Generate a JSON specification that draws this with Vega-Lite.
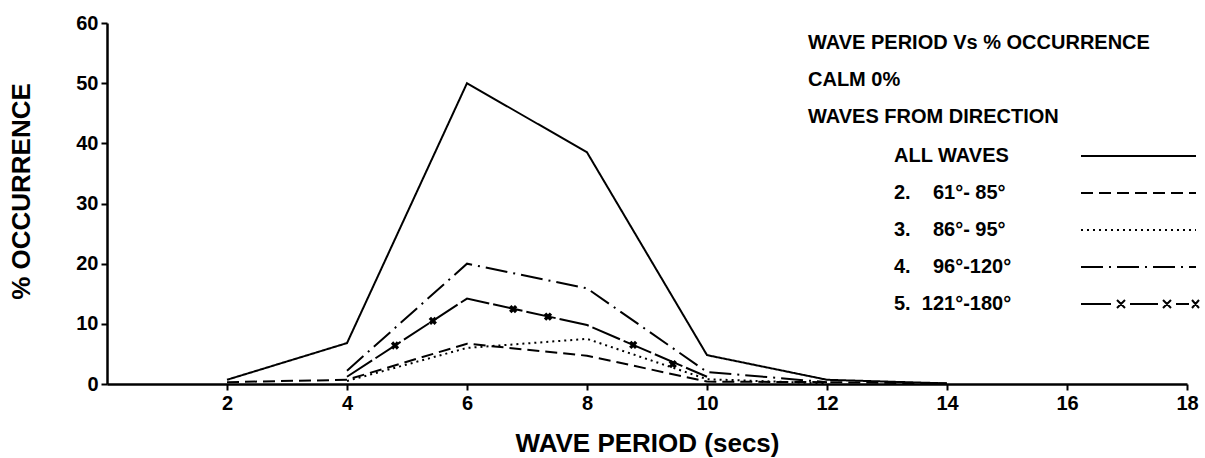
{
  "$schema": "https://vega.github.io/schema/vega-lite/v6.json",
  "width": 1080,
  "height": 361,
  "autosize": {"type": "none"},
  "padding": {"left": 107, "top": 23, "right": 18, "bottom": 74},
  "background": "white",
  "config": {
    "view": {"stroke": null},
    "font": "Liberation Sans",
    "axis": {
      "grid": false,
      "domainColor": "black",
      "domainWidth": 2.5,
      "tickColor": "black",
      "tickWidth": 2,
      "tickSize": 6,
      "labelFont": "Liberation Sans",
      "labelFontSize": 20,
      "labelFontWeight": "bold",
      "labelColor": "black",
      "titleFont": "Liberation Sans",
      "titleFontSize": 26,
      "titleFontWeight": "bold",
      "titleColor": "black"
    },
    "legend": {
      "titleFont": "Liberation Sans",
      "labelFont": "Liberation Sans"
    }
  },
  "datasets": {
    "series": [
      {"period": 2, "pct": 0.7, "series": "ALL WAVES"},
      {"period": 4, "pct": 6.8, "series": "ALL WAVES"},
      {"period": 6, "pct": 50.0, "series": "ALL WAVES"},
      {"period": 8, "pct": 38.5, "series": "ALL WAVES"},
      {"period": 10, "pct": 4.8, "series": "ALL WAVES"},
      {"period": 12, "pct": 0.7, "series": "ALL WAVES"},
      {"period": 14, "pct": 0.1, "series": "ALL WAVES"},
      {"period": 2, "pct": 0.3, "series": "2.\u00a0\u00a0\u00a0\u00a061°- 85°"},
      {"period": 4, "pct": 0.7, "series": "2.\u00a0\u00a0\u00a0\u00a061°- 85°"},
      {"period": 6, "pct": 6.7, "series": "2.\u00a0\u00a0\u00a0\u00a061°- 85°"},
      {"period": 8, "pct": 4.7, "series": "2.\u00a0\u00a0\u00a0\u00a061°- 85°"},
      {"period": 10, "pct": 0.4, "series": "2.\u00a0\u00a0\u00a0\u00a061°- 85°"},
      {"period": 12, "pct": 0.3, "series": "2.\u00a0\u00a0\u00a0\u00a061°- 85°"},
      {"period": 14, "pct": 0.1, "series": "2.\u00a0\u00a0\u00a0\u00a061°- 85°"},
      {"period": 4, "pct": 0.5, "series": "3.\u00a0\u00a0\u00a0\u00a086°- 95°"},
      {"period": 6, "pct": 6.0, "series": "3.\u00a0\u00a0\u00a0\u00a086°- 95°"},
      {"period": 8, "pct": 7.5, "series": "3.\u00a0\u00a0\u00a0\u00a086°- 95°"},
      {"period": 10, "pct": 0.8, "series": "3.\u00a0\u00a0\u00a0\u00a086°- 95°"},
      {"period": 12, "pct": 0.1, "series": "3.\u00a0\u00a0\u00a0\u00a086°- 95°"},
      {"period": 4, "pct": 2.2, "series": "4.\u00a0\u00a0\u00a0\u00a096°-120°"},
      {"period": 6, "pct": 20.0, "series": "4.\u00a0\u00a0\u00a0\u00a096°-120°"},
      {"period": 8, "pct": 15.9, "series": "4.\u00a0\u00a0\u00a0\u00a096°-120°"},
      {"period": 10, "pct": 2.0, "series": "4.\u00a0\u00a0\u00a0\u00a096°-120°"},
      {"period": 12, "pct": 0.3, "series": "4.\u00a0\u00a0\u00a0\u00a096°-120°"},
      {"period": 4, "pct": 1.2, "series": "5.\u00a0\u00a0121°-180°"},
      {"period": 6, "pct": 14.2, "series": "5.\u00a0\u00a0121°-180°"},
      {"period": 8, "pct": 9.8, "series": "5.\u00a0\u00a0121°-180°"},
      {"period": 10, "pct": 1.2, "series": "5.\u00a0\u00a0121°-180°"}
    ],
    "markers": [
      {"period": 4.8, "pct": 6.4},
      {"period": 5.43, "pct": 10.5},
      {"period": 6.77, "pct": 12.45},
      {"period": 7.35, "pct": 11.2},
      {"period": 8.77, "pct": 6.5},
      {"period": 9.43, "pct": 3.3}
    ]
  },
  "layer": [
    {
      "data": {"name": "series"},
      "mark": {"type": "line", "color": "black", "strokeWidth": 2},
      "encoding": {
        "x": {
          "field": "period",
          "type": "quantitative",
          "scale": {"domain": [0, 18], "nice": false, "zero": false},
          "axis": {
            "title": "WAVE PERIOD (secs)",
            "values": [2, 4, 6, 8, 10, 12, 14, 16, 18],
            "format": "d",
            "labelPadding": 3,
            "labelFlush": false,
            "titleY": 59,
            "titleBaseline": "middle"
          }
        },
        "y": {
          "field": "pct",
          "type": "quantitative",
          "scale": {"domain": [0, 60], "nice": false},
          "axis": {
            "title": "% OCCURRENCE",
            "values": [0, 10, 20, 30, 40, 50, 60],
            "format": "d",
            "labelPadding": 3,
            "titleX": -86,
            "titleY": 168,
            "titleBaseline": "middle"
          }
        },
        "strokeDash": {
          "field": "series",
          "type": "nominal",
          "scale": {
            "domain": ["ALL WAVES", "2.\u00a0\u00a0\u00a0\u00a061°- 85°", "3.\u00a0\u00a0\u00a0\u00a086°- 95°", "4.\u00a0\u00a0\u00a0\u00a096°-120°", "5.\u00a0\u00a0121°-180°"],
            "range": [[1, 0], [12, 6], [2, 4], [22, 6, 2, 6], [30, 4]]
          },
          "legend": {
            "orient": "none",
            "legendX": 701,
            "legendY": 10,
            "padding": 0,
            "title": ["WAVE PERIOD Vs % OCCURRENCE", "CALM 0%", "WAVES FROM DIRECTION"],
            "titleFontSize": 20,
            "titleFontWeight": "bold",
            "titleColor": "black",
            "titleLineHeight": 37,
            "titlePadding": 18,
            "titleLimit": 500,
            "labelFontSize": 20,
            "labelFontWeight": "bold",
            "labelColor": "black",
            "labelLimit": 300,
            "symbolType": "M26.2,0H37.7",
            "symbolSize": 400,
            "symbolStrokeWidth": 2,
            "symbolStrokeColor": "black",
            "symbolOffset": 0,
            "labelOffset": 64,
            "rowPadding": 16,
            "encode": {
              "symbols": {
                "update": {
                  "shape": {"signal": "datum.index === 4 ? 'M26.2,0H29.3M29.8,-0.4L30.6,0.4M29.8,0.4L30.6,-0.4M31.1,0H33.9M34.4,-0.4L35.2,0.4M34.4,0.4L35.2,-0.4M35.7,0H37.0M37.3,-0.4L38.0,0.4M37.3,0.4L38.0,-0.4' : 'M26.2,0H37.7'"}
                }
              }
            }
          }
        }
      }
    },
    {
      "data": {"name": "markers"},
      "mark": {"type": "point", "shape": "cross", "angle": 45, "filled": true, "color": "black", "size": 70, "opacity": 1},
      "encoding": {
        "x": {"field": "period", "type": "quantitative"},
        "y": {"field": "pct", "type": "quantitative"}
      }
    }
  ]
}
